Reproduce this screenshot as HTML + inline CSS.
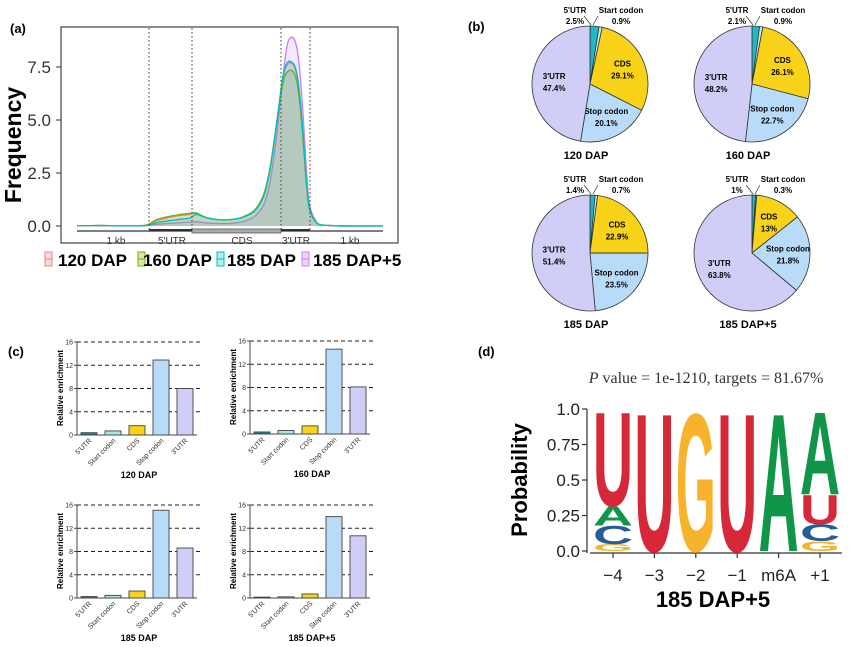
<!DOCTYPE html>
<html><head><meta charset="utf-8">
<style>
html,body{margin:0;padding:0;background:#fff;}
svg{display:block;font-family:"Liberation Sans",Arial,sans-serif;}
</style></head>
<body>
<svg id="root" width="860" height="647" viewBox="0 0 860 647" xmlns="http://www.w3.org/2000/svg">
<g id="pa"></g>
<g id="pb"></g>
<g id="pc"></g>
<g id="pd"></g>
</svg>
<script>
// ---------- DATA ----------
const densPos = [0,0.05,0.1,0.15,0.2,0.23,0.26,0.3,0.34,0.37,0.39,0.42,0.46,0.5,0.54,0.58,0.61,0.63,0.65,0.67,0.68,0.69,0.70,0.71,0.72,0.73,0.74,0.75,0.76,0.78,0.8,0.85,0.9,1.0];
const dens120 = [0.02,0.02,0.02,0.01,0.01,0.05,0.25,0.4,0.5,0.55,0.6,0.4,0.3,0.3,0.4,0.7,1.4,2.6,4.6,6.7,7.4,7.65,7.7,7.5,7.0,5.8,4.0,2.0,0.8,0.2,0.05,0.01,0,0];
const dens160 = [0.02,0.02,0.02,0.01,0.01,0.06,0.3,0.45,0.55,0.6,0.62,0.42,0.3,0.3,0.42,0.75,1.5,2.7,4.6,6.5,7.1,7.3,7.35,7.2,6.7,5.5,3.8,1.9,0.75,0.2,0.05,0.01,0,0];
const dens185 = [0.02,0.02,0.02,0.01,0.01,0.03,0.15,0.25,0.32,0.38,0.55,0.4,0.3,0.3,0.4,0.7,1.4,2.6,4.6,6.8,7.5,7.75,7.75,7.6,7.1,5.9,4.1,2.1,0.85,0.2,0.05,0.01,0,0];
const dens1855 = [0.02,0.02,0.02,0.01,0.01,0.02,0.08,0.12,0.16,0.18,0.2,0.15,0.12,0.12,0.2,0.45,1.0,2.0,4.0,6.6,7.9,8.7,8.9,8.8,8.3,7.0,5.0,2.6,1.0,0.25,0.05,0.01,0,0];
const densTicks = [0,2.5,5,7.5];
const densTickLabels = ["0.0","2.5","5.0","7.5"];
const pieLabels = ["5'UTR","Start codon","CDS","Stop codon","3'UTR"];
const pie120 = [2.5,0.9,29.1,20.1,47.4];
const pie160 = [2.1,0.9,26.1,22.7,48.2];
const pie185 = [1.4,0.7,22.9,23.5,51.4];
const pie1855 = [1,0.3,13,21.8,63.8];
const sampleNames = ["120 DAP","160 DAP","185 DAP","185 DAP+5"];
const barCats = ["5'UTR","Start codon","CDS","Stop codon","3'UTR"];
const bar120 = [0.4,0.7,1.6,12.9,8.0];
const bar160 = [0.35,0.6,1.4,14.6,8.1];
const bar185 = [0.25,0.45,1.2,15.1,8.6];
const bar1855 = [0.15,0.2,0.7,14.0,10.7];
const barTicks = [0,4,8,12,16];
const logoPositions = ["\u22124","\u22123","\u22122","\u22121","m6A","+1"];
const logoLetters = [["G","C","A","U"],["U"],["G"],["U"],["A"],["G","C","U","A"]];
const logoProbs = [[0.05,0.13,0.14,0.68],[1],[1],[1],[1],[0.07,0.12,0.21,0.6]];
const logoTicks = [0,0.25,0.5,0.75,1.0];
const logoTickLabels = ["0.0","0.25","0.5","0.75","1.0"];
</script>
<script>
const NS="http://www.w3.org/2000/svg";
function mk(parent,tag,attrs,text){const e=document.createElementNS(NS,tag);for(const k in attrs)e.setAttribute(k,attrs[k]);if(text!==undefined)e.textContent=text;parent.appendChild(e);return e;}
function smooth(pts){
  let d='M'+pts[0][0].toFixed(1)+','+pts[0][1].toFixed(1);
  for(let i=0;i<pts.length-1;i++){
    const p0=pts[Math.max(0,i-1)],p1=pts[i],p2=pts[i+1],p3=pts[Math.min(pts.length-1,i+2)];
    const c1=[p1[0]+(p2[0]-p0[0])/6,p1[1]+(p2[1]-p0[1])/6];
    const c2=[p2[0]-(p3[0]-p1[0])/6,p2[1]-(p3[1]-p1[1])/6];
    d+=` C${c1[0].toFixed(1)},${c1[1].toFixed(1)} ${c2[0].toFixed(1)},${c2[1].toFixed(1)} ${p2[0].toFixed(1)},${p2[1].toFixed(1)}`;
  }
  return d;
}

// ---------- PANEL A ----------
const pa=document.getElementById('pa');
let t=mk(pa,'text',{x:10,y:33,'font-size':13,'font-weight':'bold'},'(a)');


let r=mk(pa,'rect',{x:61,y:27,width:337,height:216,fill:'none',stroke:'#444','stroke-width':1.2});


const ax0=77,ax1=383,ay0=226,ayU=21.2;
const dx=p=>ax0+p*(ax1-ax0), dy=v=>ay0-v*ayU;
densTicks.forEach((v,i)=>{
  let tl=mk(pa,'text',{x:51,y:dy(v)+6,'font-size':17,'text-anchor':'end',fill:'#333'},densTickLabels[i]);
  
  
  mk(pa,'line',{x1:56,x2:61,y1:dy(v),y2:dy(v),stroke:'#333'});
});
t=mk(pa,'text',{x:0,y:0,'font-size':23,'font-weight':'bold','text-anchor':'middle',transform:'translate(21,145) rotate(-90)'},'Frequency');


const series=[[dens120,'#f08080'],[dens160,'#7cae00'],[dens185,'#00bfc4'],[dens1855,'#c77cff']];
[3,0,1,2].forEach(si=>{
  const [vals,col]=series[si];
  const pts=vals.map((v,i)=>[dx(densPos[i]),dy(v)]);
  const line=smooth(pts);
  const d=line+` L${dx(densPos[densPos.length-1])},${dy(0)} L${dx(densPos[0])},${dy(0)} Z`;
  let a=mk(pa,'path',{d:d,fill:col,'fill-opacity':0.18,stroke:'none'});
  
  
  let ln=mk(pa,'path',{d:line,fill:'none',stroke:col,'stroke-width':1.3});
  
  
});
[149,192,281,310].forEach(x=>{
  let v=mk(pa,'line',{x1:x,x2:x,y1:28,y2:232,stroke:'#555','stroke-dasharray':'1.5,2.5','stroke-width':1.2});
  
  
});
mk(pa,'line',{x1:77,x2:383,y1:231,y2:231,stroke:'#333','stroke-width':1.2});
mk(pa,'rect',{x:192,y:229,width:89,height:4,fill:'#aaa',stroke:'#555','stroke-width':0.8});
mk(pa,'line',{x1:149,x2:192,y1:230,y2:230,stroke:'#333','stroke-width':2});
mk(pa,'line',{x1:281,x2:310,y1:230,y2:230,stroke:'#333','stroke-width':2});
[["1 kb",116],["5'UTR",172],["CDS",242],["3'UTR",296],["1 kb",350]].forEach(([s,x])=>{
  let g=mk(pa,'text',{x:x,y:244,'font-size':10,'text-anchor':'middle',fill:'#333'},s);
  
  
});
const legX=[[45,58],[138,143],[217,227],[302,313]];
sampleNames.forEach((n,i)=>{
  const col=series[i][1];
  let b=mk(pa,'rect',{x:legX[i][0],y:252,width:7,height:14,fill:col,'fill-opacity':0.3,stroke:col,'stroke-width':1});
  
  
  mk(pa,'line',{x1:legX[i][0],x2:legX[i][0]+7,y1:259,y2:259,stroke:col});
  let lt=mk(pa,'text',{x:legX[i][1],y:266,'font-size':17,'font-weight':'bold'},n);
  
  
});

// ---------- PANEL B ----------
const pb=document.getElementById('pb');
t=mk(pb,'text',{x:468,y:31,'font-size':13,'font-weight':'bold'},'(b)');


const pieCols=['#1fb8c4','#bdeef2','#f9d21a','#b7dbf8','#d0cdf6'];
const pies=[[pie120,590,84],[pie160,752,84],[pie185,590,253],[pie1855,752,253]];
const R=58;
pies.forEach(([vals,cx,cy],pi)=>{
  const g=mk(pb,'g',{});
  
  
  const tot=vals.reduce((a,b)=>a+b,0);
  let acc=0;
  vals.forEach((v,i)=>{
    const a0=acc/tot*2*Math.PI;acc+=v;const a1=acc/tot*2*Math.PI;
    const x0=cx+R*Math.sin(a0),y0=cy-R*Math.cos(a0),x1=cx+R*Math.sin(a1),y1=cy-R*Math.cos(a1);
    const large=(a1-a0)>Math.PI?1:0;
    let s=mk(g,'path',{d:`M${cx},${cy} L${x0.toFixed(2)},${y0.toFixed(2)} A${R},${R} 0 ${large} 1 ${x1.toFixed(2)},${y1.toFixed(2)} Z`,fill:pieCols[i],stroke:'#333','stroke-width':0.8});
    
    
    if(i>=2){
      const am=(a0+a1)/2,rr=R*0.62;
      const lx=cx+rr*Math.sin(am),ly=cy-rr*Math.cos(am);
      mk(g,'text',{x:lx,y:ly-2,'font-size':8,'font-weight':'bold','text-anchor':'middle'},pieLabels[i]);
      mk(g,'text',{x:lx,y:ly+10,'font-size':8,'font-weight':'bold','text-anchor':'middle'},vals[i]+'%');
    }
  });
  mk(g,'text',{x:cx-15,y:cy-71,'font-size':8,'font-weight':'bold','text-anchor':'middle'},pieLabels[0]);
  mk(g,'text',{x:cx-15,y:cy-60,'font-size':8,'font-weight':'bold','text-anchor':'middle'},vals[0]+'%');
  mk(g,'text',{x:cx+31,y:cy-71,'font-size':8,'font-weight':'bold','text-anchor':'middle'},pieLabels[1]);
  mk(g,'text',{x:cx+31,y:cy-60,'font-size':8,'font-weight':'bold','text-anchor':'middle'},vals[1]+'%');
  mk(g,'line',{x1:cx-6,y1:cy-68,x2:cx+1,y2:cy-59,stroke:'#333','stroke-width':0.7});
  mk(g,'line',{x1:cx+8,y1:cy-68,x2:cx+3,y2:cy-59,stroke:'#333','stroke-width':0.7});
  let tt=mk(g,'text',{x:cx-4,y:cy+R+17,'font-size':11,'font-weight':'bold','text-anchor':'middle'},sampleNames[pi]);
  
  
});

// ---------- PANEL C ----------
const pc=document.getElementById('pc');
t=mk(pc,'text',{x:8,y:356,'font-size':13,'font-weight':'bold'},'(c)');


const barCols=['#138a94','#a6e4e6','#f9d21a','#b7dbf8','#d0cdf6'];
const bars=[[bar120,77,435],[bar160,250,434],[bar185,77,598],[bar1855,250,598]];
bars.forEach(([vals,ax,by],ci)=>{
  const g=mk(pc,'g',{});
  
  
  const ys=v=>by-v/16*93;
  const xs=i=>ax+12+i*24;
  barTicks.forEach(v=>{
    if(v>0)mk(g,'line',{x1:ax,x2:ax+123,y1:ys(v),y2:ys(v),stroke:'#222','stroke-dasharray':'4,3','stroke-width':1});
    mk(g,'line',{x1:ax-3,x2:ax,y1:ys(v),y2:ys(v),stroke:'#444'});
    mk(g,'text',{x:ax-4,y:ys(v)+2.5,'font-size':7,'text-anchor':'end',fill:'#333'},v);
  });
  mk(g,'line',{x1:ax,x2:ax,y1:ys(16),y2:by,stroke:'#444'});
  mk(g,'line',{x1:ax,x2:ax+120,y1:by,y2:by,stroke:'#444'});
  vals.forEach((v,i)=>{
    let b=mk(g,'rect',{x:xs(i)-8,y:ys(v),width:16,height:by-ys(v),fill:barCols[i],stroke:'#444','stroke-width':0.9});
    
    
    mk(g,'text',{x:0,y:0,'font-size':7,'text-anchor':'end',fill:'#333',transform:`translate(${xs(i)+3},${by+6}) rotate(-45)`},barCats[i]);
  });
  mk(g,'text',{x:0,y:0,'font-size':8,'font-weight':'bold','text-anchor':'middle',transform:`translate(${ax-14},${by-47}) rotate(-90)`},'Relative enrichment');
  mk(g,'text',{x:ax+62,y:by+43,'font-size':9,'font-weight':'bold','text-anchor':'middle'},sampleNames[ci]);
});

// ---------- PANEL D ----------
const pd=document.getElementById('pd');
t=mk(pd,'text',{x:478,y:356,'font-size':13,'font-weight':'bold'},'(d)');


t=mk(pd,'text',{x:706,y:383,'font-size':16,'text-anchor':'middle',fill:'#333','font-family':'"Liberation Serif",serif'});
mk(t,'tspan',{'font-style':'italic'},'P');
mk(t,'tspan',{},' value = 1e-1210, targets = 81.67%');


const ly0=551,lyH=142;
const lys=p=>ly0-p*lyH;
const lxs=i=>613+i*41.4;
const letterCols={A:'#109648',C:'#255c99',G:'#f7b32b',U:'#d62839'};
logoTicks.forEach((v,i)=>{
  mk(pd,'line',{x1:582,x2:587,y1:lys(v),y2:lys(v),stroke:'#333','stroke-width':1.2});
  let tl=mk(pd,'text',{x:580,y:lys(v)+6,'font-size':17,'text-anchor':'end',fill:'#222'},logoTickLabels[i]);
  
  
});
mk(pd,'line',{x1:587,x2:587,y1:lys(1),y2:ly0+2,stroke:'#333','stroke-width':1.2});
mk(pd,'line',{x1:590,x2:842,y1:ly0+2,y2:ly0+2,stroke:'#333','stroke-width':1.2});
t=mk(pd,'text',{x:0,y:0,'font-size':22,'font-weight':'bold','text-anchor':'middle',transform:'translate(527,480) rotate(-90)'},'Probability');


logoPositions.forEach((p,i)=>{
  mk(pd,'line',{x1:lxs(i),x2:lxs(i),y1:ly0+2,y2:ly0+7,stroke:'#333','stroke-width':1.2});
  let tl=mk(pd,'text',{x:lxs(i),y:ly0+30,'font-size':17,'text-anchor':'middle',fill:'#222'},p);
  
  
  let acc=0;
  logoLetters[i].forEach((L,j)=>{
    const h=logoProbs[i][j]*lyH; const base=lys(acc); acc+=logoProbs[i][j];
    const sy=h/72;
    let g=mk(pd,'text',{x:0,y:0,'font-size':100,'font-weight':'bold',fill:letterCols[L],textLength:40,lengthAdjust:'spacingAndGlyphs',transform:`translate(${lxs(i)-20},${base.toFixed(2)}) scale(1,${sy.toFixed(4)})`},L);
    
    
  });
});
t=mk(pd,'text',{x:713,y:607,'font-size':22,'font-weight':'bold','text-anchor':'middle'},'185 DAP+5');


</script>
</body></html>
